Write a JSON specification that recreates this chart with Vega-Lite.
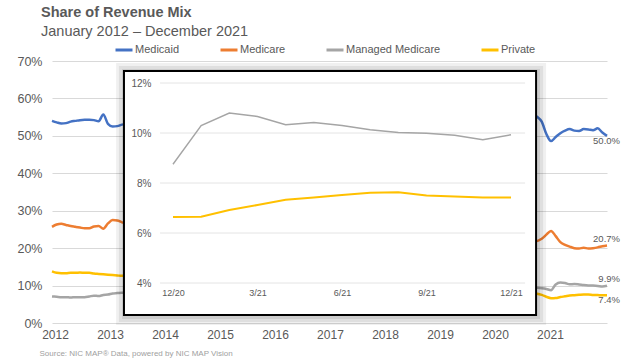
{
  "$schema": "https://vega.github.io/schema/vega-lite/v6.json",
  "width": 555,
  "height": 262,
  "autosize": {"type": "none"},
  "padding": {"left": 52, "top": 61, "right": 15, "bottom": 37},
  "background": "white",
  "config": {"view": {"stroke": null}, "font": "Liberation Sans"},
  "title": {
    "text": "Share of Revenue Mix",
    "subtitle": "January 2012 – December 2021",
    "anchor": "start",
    "frame": "group",
    "dx": -11,
    "offset": 1,
    "font": "Liberation Sans",
    "fontSize": 14.5,
    "fontWeight": "bold",
    "color": "#595959",
    "subtitleFont": "Liberation Sans",
    "subtitleFontSize": 14.5,
    "subtitleColor": "#595959",
    "subtitlePadding": 4.5
  },
  "datasets": {
    "mix": [
      {"s": "Medicaid", "m": 0, "v": 0.540}, {"s": "Medicaid", "m": 1, "v": 0.536}, {"s": "Medicaid", "m": 2, "v": 0.533}, {"s": "Medicaid", "m": 3, "v": 0.534}, {"s": "Medicaid", "m": 4, "v": 0.538}, {"s": "Medicaid", "m": 5, "v": 0.540}, {"s": "Medicaid", "m": 6, "v": 0.542}, {"s": "Medicaid", "m": 7, "v": 0.543}, {"s": "Medicaid", "m": 8, "v": 0.543}, {"s": "Medicaid", "m": 9, "v": 0.542}, {"s": "Medicaid", "m": 10, "v": 0.539}, {"s": "Medicaid", "m": 11, "v": 0.557}, {"s": "Medicaid", "m": 12, "v": 0.532}, {"s": "Medicaid", "m": 13, "v": 0.525}, {"s": "Medicaid", "m": 14, "v": 0.526}, {"s": "Medicaid", "m": 15, "v": 0.530}, {"s": "Medicaid", "m": 16, "v": 0.532}, {"s": "Medicaid", "m": 17, "v": 0.533},
      {"s": "Medicaid", "m": 101, "v": 0.556}, {"s": "Medicaid", "m": 102, "v": 0.557}, {"s": "Medicaid", "m": 103, "v": 0.558}, {"s": "Medicaid", "m": 104, "v": 0.551}, {"s": "Medicaid", "m": 105, "v": 0.538}, {"s": "Medicaid", "m": 106, "v": 0.505}, {"s": "Medicaid", "m": 107, "v": 0.486}, {"s": "Medicaid", "m": 108, "v": 0.497}, {"s": "Medicaid", "m": 109, "v": 0.507}, {"s": "Medicaid", "m": 110, "v": 0.514}, {"s": "Medicaid", "m": 111, "v": 0.518}, {"s": "Medicaid", "m": 112, "v": 0.514}, {"s": "Medicaid", "m": 113, "v": 0.513}, {"s": "Medicaid", "m": 114, "v": 0.518}, {"s": "Medicaid", "m": 115, "v": 0.517}, {"s": "Medicaid", "m": 116, "v": 0.515}, {"s": "Medicaid", "m": 117, "v": 0.520}, {"s": "Medicaid", "m": 118, "v": 0.509}, {"s": "Medicaid", "m": 119, "v": 0.500},
      {"s": "Medicare", "m": 0, "v": 0.257}, {"s": "Medicare", "m": 1, "v": 0.263}, {"s": "Medicare", "m": 2, "v": 0.265}, {"s": "Medicare", "m": 3, "v": 0.262}, {"s": "Medicare", "m": 4, "v": 0.259}, {"s": "Medicare", "m": 5, "v": 0.257}, {"s": "Medicare", "m": 6, "v": 0.255}, {"s": "Medicare", "m": 7, "v": 0.253}, {"s": "Medicare", "m": 8, "v": 0.253}, {"s": "Medicare", "m": 9, "v": 0.258}, {"s": "Medicare", "m": 10, "v": 0.259}, {"s": "Medicare", "m": 11, "v": 0.252}, {"s": "Medicare", "m": 12, "v": 0.266}, {"s": "Medicare", "m": 13, "v": 0.275}, {"s": "Medicare", "m": 14, "v": 0.274}, {"s": "Medicare", "m": 15, "v": 0.269}, {"s": "Medicare", "m": 16, "v": 0.266}, {"s": "Medicare", "m": 17, "v": 0.264},
      {"s": "Medicare", "m": 101, "v": 0.222}, {"s": "Medicare", "m": 102, "v": 0.221}, {"s": "Medicare", "m": 103, "v": 0.220}, {"s": "Medicare", "m": 104, "v": 0.219}, {"s": "Medicare", "m": 105, "v": 0.225}, {"s": "Medicare", "m": 106, "v": 0.236}, {"s": "Medicare", "m": 107, "v": 0.246}, {"s": "Medicare", "m": 108, "v": 0.232}, {"s": "Medicare", "m": 109, "v": 0.216}, {"s": "Medicare", "m": 110, "v": 0.209}, {"s": "Medicare", "m": 111, "v": 0.204}, {"s": "Medicare", "m": 112, "v": 0.200}, {"s": "Medicare", "m": 113, "v": 0.199}, {"s": "Medicare", "m": 114, "v": 0.201}, {"s": "Medicare", "m": 115, "v": 0.199}, {"s": "Medicare", "m": 116, "v": 0.200}, {"s": "Medicare", "m": 117, "v": 0.202}, {"s": "Medicare", "m": 118, "v": 0.205}, {"s": "Medicare", "m": 119, "v": 0.207},
      {"s": "Managed Medicare", "m": 0, "v": 0.071}, {"s": "Managed Medicare", "m": 1, "v": 0.070}, {"s": "Managed Medicare", "m": 2, "v": 0.069}, {"s": "Managed Medicare", "m": 3, "v": 0.069}, {"s": "Managed Medicare", "m": 4, "v": 0.068}, {"s": "Managed Medicare", "m": 5, "v": 0.069}, {"s": "Managed Medicare", "m": 6, "v": 0.069}, {"s": "Managed Medicare", "m": 7, "v": 0.069}, {"s": "Managed Medicare", "m": 8, "v": 0.071}, {"s": "Managed Medicare", "m": 9, "v": 0.073}, {"s": "Managed Medicare", "m": 10, "v": 0.072}, {"s": "Managed Medicare", "m": 11, "v": 0.075}, {"s": "Managed Medicare", "m": 12, "v": 0.076}, {"s": "Managed Medicare", "m": 13, "v": 0.079}, {"s": "Managed Medicare", "m": 14, "v": 0.080}, {"s": "Managed Medicare", "m": 15, "v": 0.081}, {"s": "Managed Medicare", "m": 16, "v": 0.081}, {"s": "Managed Medicare", "m": 17, "v": 0.082},
      {"s": "Managed Medicare", "m": 101, "v": 0.094}, {"s": "Managed Medicare", "m": 102, "v": 0.094}, {"s": "Managed Medicare", "m": 103, "v": 0.094}, {"s": "Managed Medicare", "m": 104, "v": 0.094}, {"s": "Managed Medicare", "m": 105, "v": 0.093}, {"s": "Managed Medicare", "m": 106, "v": 0.091}, {"s": "Managed Medicare", "m": 107, "v": 0.0875}, {"s": "Managed Medicare", "m": 108, "v": 0.103}, {"s": "Managed Medicare", "m": 109, "v": 0.108}, {"s": "Managed Medicare", "m": 110, "v": 0.1066}, {"s": "Managed Medicare", "m": 111, "v": 0.1033}, {"s": "Managed Medicare", "m": 112, "v": 0.1042}, {"s": "Managed Medicare", "m": 113, "v": 0.1030}, {"s": "Managed Medicare", "m": 114, "v": 0.1013}, {"s": "Managed Medicare", "m": 115, "v": 0.1002}, {"s": "Managed Medicare", "m": 116, "v": 0.0999}, {"s": "Managed Medicare", "m": 117, "v": 0.0991}, {"s": "Managed Medicare", "m": 118, "v": 0.0973}, {"s": "Managed Medicare", "m": 119, "v": 0.0993},
      {"s": "Private", "m": 0, "v": 0.138}, {"s": "Private", "m": 1, "v": 0.134}, {"s": "Private", "m": 2, "v": 0.133}, {"s": "Private", "m": 3, "v": 0.133}, {"s": "Private", "m": 4, "v": 0.134}, {"s": "Private", "m": 5, "v": 0.134}, {"s": "Private", "m": 6, "v": 0.135}, {"s": "Private", "m": 7, "v": 0.134}, {"s": "Private", "m": 8, "v": 0.134}, {"s": "Private", "m": 9, "v": 0.132}, {"s": "Private", "m": 10, "v": 0.131}, {"s": "Private", "m": 11, "v": 0.130}, {"s": "Private", "m": 12, "v": 0.129}, {"s": "Private", "m": 13, "v": 0.128}, {"s": "Private", "m": 14, "v": 0.127}, {"s": "Private", "m": 15, "v": 0.126}, {"s": "Private", "m": 16, "v": 0.126}, {"s": "Private", "m": 17, "v": 0.125},
      {"s": "Private", "m": 101, "v": 0.080}, {"s": "Private", "m": 102, "v": 0.080}, {"s": "Private", "m": 103, "v": 0.079}, {"s": "Private", "m": 104, "v": 0.078}, {"s": "Private", "m": 105, "v": 0.075}, {"s": "Private", "m": 106, "v": 0.070}, {"s": "Private", "m": 107, "v": 0.0664}, {"s": "Private", "m": 108, "v": 0.0665}, {"s": "Private", "m": 109, "v": 0.0692}, {"s": "Private", "m": 110, "v": 0.0712}, {"s": "Private", "m": 111, "v": 0.0733}, {"s": "Private", "m": 112, "v": 0.0742}, {"s": "Private", "m": 113, "v": 0.0752}, {"s": "Private", "m": 114, "v": 0.0761}, {"s": "Private", "m": 115, "v": 0.0763}, {"s": "Private", "m": 116, "v": 0.0750}, {"s": "Private", "m": 117, "v": 0.0746}, {"s": "Private", "m": 118, "v": 0.0742}, {"s": "Private", "m": 119, "v": 0.0742}
    ]
  },
  "resolve": {
    "scale": {"x": "independent", "y": "independent"},
    "axis": {"x": "independent", "y": "independent"}
  },
  "layer": [
    {
      "data": {"name": "mix"},
      "encoding": {
        "x": {
          "field": "m", "type": "quantitative",
          "scale": {"domain": [0, 119], "nice": false, "zero": false},
          "axis": {
            "values": [0.64, 12.44, 24.23, 36.02, 47.81, 59.6, 71.4, 83.19, 94.98, 106.77],
            "labelExpr": "2012 + round(datum.value / 11.792)",
            "labelFlush": false, "labelOverlap": false,
            "grid": false, "domain": false, "ticks": false, "tickSize": 0,
            "labelPadding": 6, "labelFontSize": 12, "labelColor": "#595959",
            "title": "Source: NIC MAP® Data, powered by NIC MAP Vision",
            "titleFontSize": 8, "titleFontWeight": "normal", "titleColor": "#a0a0a0",
            "titleAlign": "left", "titleBaseline": "alphabetic", "titleX": -13, "titleY": 32
          }
        },
        "y": {
          "field": "v", "type": "quantitative",
          "scale": {"domain": [0, 0.7], "nice": false},
          "axis": {
            "values": [0, 0.1, 0.2, 0.3, 0.4, 0.5, 0.6, 0.7],
            "format": ".0%", "grid": true, "gridColor": "#d9d9d9", "gridWidth": 1,
            "labelOverlap": false,
            "domain": false, "ticks": false, "tickSize": 0,
            "labelPadding": 10, "labelFontSize": 12.5, "labelColor": "#595959",
            "title": null
          }
        }
      },
      "layer": [
        {
          "mark": {"type": "line", "strokeWidth": 2.5, "interpolate": "monotone"},
          "encoding": {
            "color": {
              "field": "s", "type": "nominal",
              "scale": {
                "domain": ["Medicaid", "Medicare", "Managed Medicare", "Private"],
                "range": ["#4472C4", "#ED7D31", "#A5A5A5", "#FFC000"]
              },
              "legend": {
                "orient": "none", "legendX": 62, "legendY": -21, "direction": "horizontal",
                "title": null, "symbolType": "stroke", "symbolSize": 289, "symbolStrokeWidth": 3,
                "labelFontSize": 11, "labelColor": "#595959", "labelOffset": 1,
                "columnPadding": 34, "padding": 0
              }
            }
          }
        },
        {
          "transform": [{"filter": "datum.m == 119 && (datum.s == 'Medicaid' || datum.s == 'Private')"}],
          "mark": {"type": "text", "align": "right", "baseline": "middle", "dx": 13, "dy": 5, "fontSize": 9.5, "color": "#595959"},
          "encoding": {
            "text": {"field": "v", "format": ".1%"}
          }
        },
        {
          "transform": [{"filter": "datum.m == 119 && (datum.s == 'Medicare' || datum.s == 'Managed Medicare')"}],
          "mark": {"type": "text", "align": "right", "baseline": "middle", "dx": 13, "dy": -7, "fontSize": 9.5, "color": "#595959"},
          "encoding": {
            "text": {"field": "v", "format": ".1%"}
          }
        }
      ]
    },
    {
      "layer": [
        {
          "data": {"values": [{}]},
          "mark": {"type": "rect", "fill": "#000000", "opacity": 0.06},
          "encoding": {
            "x": {"datum": 104.98, "type": "quantitative"},
            "x2": {"datum": 120.245},
            "y": {"datum": 0.0232, "type": "quantitative"},
            "y2": {"datum": 0.128}
          }
        },
        {
          "data": {"values": [{}]},
          "mark": {"type": "rect", "fill": "#000000", "opacity": 0.07},
          "encoding": {
            "x": {"datum": 105.08, "type": "quantitative"},
            "x2": {"datum": 120.14},
            "y": {"datum": 0.0244, "type": "quantitative"},
            "y2": {"datum": 0.1268}
          }
        },
        {
          "data": {"values": [{}]},
          "mark": {"type": "rect", "fill": "#000000", "opacity": 0.08},
          "encoding": {
            "x": {"datum": 105.19, "type": "quantitative"},
            "x2": {"datum": 120.03},
            "y": {"datum": 0.0256, "type": "quantitative"},
            "y2": {"datum": 0.1256}
          }
        },
        {
          "data": {"values": [{}]},
          "mark": {"type": "rect", "fill": "#ffffff", "stroke": "#000000", "strokeWidth": 2},
          "encoding": {
            "x": {"datum": 105.26, "type": "quantitative"},
            "x2": {"datum": 119.89},
            "y": {"datum": 0.0272, "type": "quantitative"},
            "y2": {"datum": 0.1248}
          }
        },
        {
          "data": {"values": [{"g": 0.04}, {"g": 0.06}, {"g": 0.08}, {"g": 0.10}, {"g": 0.12}]},
          "mark": {"type": "rule", "color": "#e4e4e4", "strokeWidth": 1},
          "encoding": {
            "x": {"datum": 106.54, "type": "quantitative"},
            "x2": {"datum": 119.5},
            "y": {"field": "g", "type": "quantitative"}
          }
        },
        {
          "data": {"name": "mix"},
          "transform": [{"filter": "datum.m >= 107 && datum.s == 'Managed Medicare'"}],
          "mark": {"type": "line", "strokeWidth": 1.4},
          "encoding": {
            "x": {
              "field": "m", "type": "quantitative",
              "scale": {"domain": [102.705, 122.408], "nice": false, "zero": false},
              "axis": {
                "orient": "bottom", "offset": -40, "values": [107, 110, 113, 116, 119],
                "labelExpr": "(datum.value % 12 + 1) + '/' + (floor(datum.value / 12) + 12)",
                "labelFlush": false,
                "grid": false, "domain": false, "ticks": false, "tickSize": 0,
                "labelPadding": 5, "labelFontSize": 9, "labelColor": "#595959",
                "title": null, "zindex": 1
              }
            },
            "y": {
              "field": "v", "type": "quantitative",
              "scale": {"domain": [0.024, 0.1288], "nice": false, "zero": false},
              "axis": {
                "orient": "left", "offset": -108, "values": [0.04, 0.06, 0.08, 0.10, 0.12],
                "format": ".0%", "grid": false, "domain": false, "ticks": false, "tickSize": 0,
                "labelPadding": 9, "labelFontSize": 10, "labelColor": "#595959",
                "title": null, "zindex": 1
              }
            },
            "color": {"field": "s", "type": "nominal", "legend": null}
          }
        },
        {
          "data": {"name": "mix"},
          "transform": [{"filter": "datum.m >= 107 && datum.s == 'Private'"}],
          "mark": {"type": "line", "strokeWidth": 2},
          "encoding": {
            "x": {"field": "m", "type": "quantitative"},
            "y": {"field": "v", "type": "quantitative"},
            "color": {"field": "s", "type": "nominal", "legend": null}
          }
        }
      ]
    }
  ]
}
